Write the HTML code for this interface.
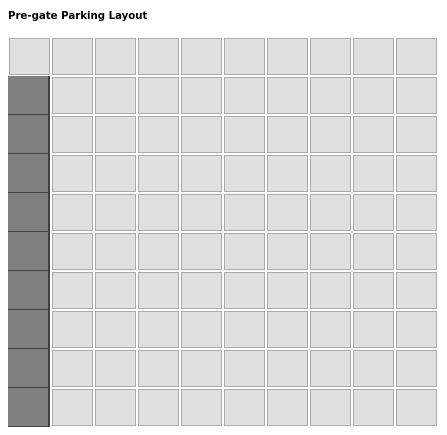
<!DOCTYPE html>
<html><head><meta charset="utf-8"><style>
body{margin:0;width:447px;height:435px;background:#fff;position:relative;overflow:hidden}
.t{position:absolute;left:8px;top:11px;font:bold 10.2px "DejaVu Sans",sans-serif;color:#000}
.c{position:absolute;box-sizing:border-box;width:41px;height:37px;background:#e0e0e0;border:1px solid #aaa}
.d{position:absolute;box-sizing:border-box;width:42px;height:39px;background:#808080;border-right:2px solid #404040;border-bottom:1px solid #404040}
</style></head><body>
<div class="t">Pre-gate Parking Layout</div>
<div id="g"></div>
<script>
const rows=10, cols=10;
const darkCol0=[0,1,1,1,1,1,1,1,1,1];
const g=document.getElementById('g');
for(let r=0;r<rows;r++){for(let c=0;c<cols;c++){
  const el=document.createElement('div');
  if(c===0&&darkCol0[r]){
    el.className='d';el.style.left='8px';el.style.top=(76+(r-1)*39)+'px';
    
    
  }else{
    el.className='c';el.style.left=(9+c*43)+'px';el.style.top=(38+r*39)+'px';
    
    
  }
  g.appendChild(el);
}}
</script>
</body></html>
